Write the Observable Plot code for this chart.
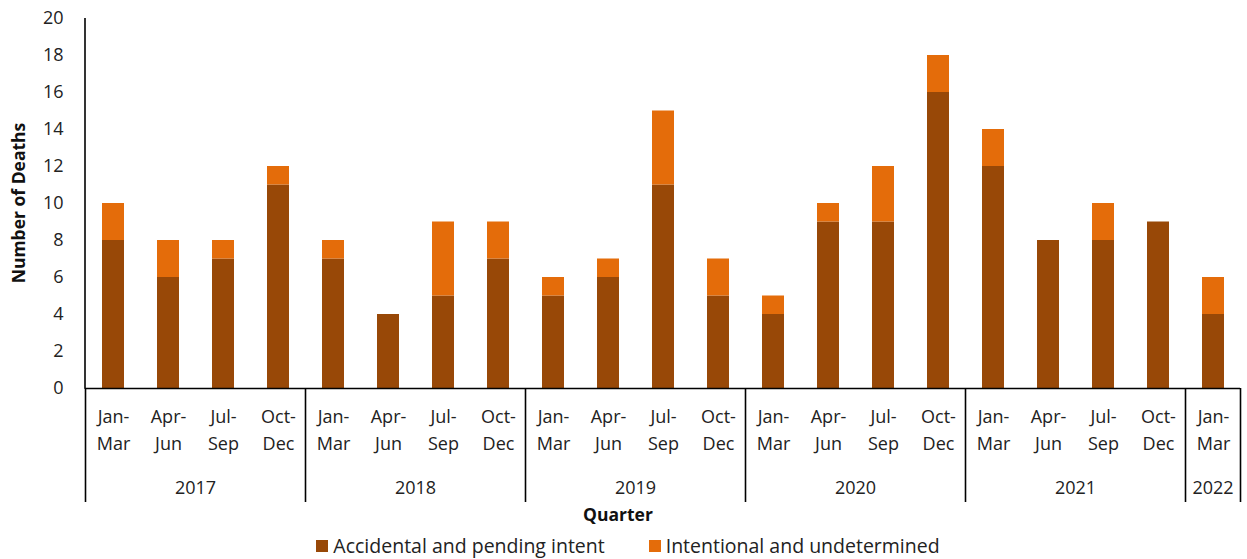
<!DOCTYPE html>
<html><head><meta charset="utf-8">
<script src="https://cdn.jsdelivr.net/npm/d3@7"></script>
<script src="https://cdn.jsdelivr.net/npm/@observablehq/plot@0.6"></script>
<style>
html,body{margin:0;padding:0;background:#fff;}
body{font-family:"Open Sans","Liberation Sans",sans-serif;color:#222;width:1247px;}
#legend{box-sizing:border-box;width:1247px;display:flex;justify-content:center;align-items:center;gap:44px;height:31px;font-size:19.5px;padding-left:9px;padding-top:4px;}
#legend .item{display:flex;align-items:center;gap:5px;}
#legend .sw{width:12px;height:12px;display:inline-block;}
</style></head><body>
<div id="chart"></div>
<div id="legend"></div>
<script>
const quarterLabels = ["Jan-Mar","Apr-Jun","Jul-Sep","Oct-Dec","Jan-Mar","Apr-Jun","Jul-Sep","Oct-Dec","Jan-Mar","Apr-Jun","Jul-Sep","Oct-Dec","Jan-Mar","Apr-Jun","Jul-Sep","Oct-Dec","Jan-Mar","Apr-Jun","Jul-Sep","Oct-Dec","Jan-Mar"];
const years = [2017,2017,2017,2017,2018,2018,2018,2018,2019,2019,2019,2019,2020,2020,2020,2020,2021,2021,2021,2021,2022];
const accidental  = [8,6,7,11, 7,4,5,7, 5,6,11,5, 4,9,9,16, 12,8,8,9, 4];
const intentional = [2,2,1,1, 1,0,4,2, 1,1,4,2, 1,1,3,2, 2,0,2,0, 2];
const seriesNames = ["Accidental and pending intent","Intentional and undetermined"];
const seriesColors = ["#984807","#E46C0A"];
const yTicks = [0,2,4,6,8,10,12,14,16,18,20];
const yTitle = "Number of Deaths";
const xTitle = "Quarter";

const keys = years.map((y,i)=>`${y} ${quarterLabels[i]}`);
const rows = [];
keys.forEach((k,i)=>{
  rows.push({key:k, series:seriesNames[0], value:accidental[i]});
  rows.push({key:k, series:seriesNames[1], value:intentional[i]});
});

const W = 1247, H = 528, MT = 18, MB = H - 388, ML = 85, MR = 7;
const FONT = "'Open Sans', 'Liberation Sans', sans-serif";

const plot = Plot.plot({
  width: W, height: H, marginTop: MT, marginBottom: MB, marginLeft: ML, marginRight: MR,
  style: {fontFamily: FONT, fontSize: "18px", color: "#222", background: "#fff", overflow: "visible"},
  x: {domain: keys, paddingInner: 0.6, paddingOuter: 0.3, axis: null},
  y: {domain: [0, 20]},
  color: {domain: seriesNames, range: seriesColors},
  marks: [
    Plot.barY(rows, {x: "key", y: "value", fill: "series"}),
    Plot.axisY({ticks: yTicks, tickSize: 0, tickPadding: 22, label: null, fontSize: 18}),
    Plot.ruleY([0], {stroke: "#000", strokeWidth: 1.6}),
    Plot.text(keys, {x: d => d, text: (d, i) => quarterLabels[i].split("-")[0] + "-", frameAnchor: "bottom", dy: 34, fontSize: 18, fill: "#222"}),
    Plot.text(keys, {x: d => d, text: (d, i) => quarterLabels[i].split("-")[1], frameAnchor: "bottom", dy: 61, fontSize: 18, fill: "#222"})
  ]
});
document.getElementById("chart").appendChild(plot);

// extra axis elements placed with the library's scales
const xs = plot.scale("x"), ys = plot.scale("y");
const svg = d3.select(plot);
const g = svg.append("g").attr("font-family", FONT);
const gap = (xs.step - xs.bandwidth) / 2;
const y0 = ys.apply(0), yTop = ys.apply(20);
// left axis line
g.append("line").attr("x1", ML).attr("x2", ML).attr("y1", yTop).attr("y2", y0 + 0.8)
  .attr("stroke", "#000").attr("stroke-width", 1.6);
// year groups
const yearList = Array.from(new Set(years));
yearList.forEach(yr => {
  const ks = keys.filter((k, i) => years[i] === yr);
  const left = xs.apply(ks[0]) - gap;
  const right = xs.apply(ks[ks.length - 1]) + xs.bandwidth + gap;
  g.append("line").attr("x1", left).attr("x2", left).attr("y1", y0).attr("y2", y0 + 114)
    .attr("stroke", "#000").attr("stroke-width", 1.6);
  if (yr === yearList[yearList.length - 1]) {
    g.append("line").attr("x1", right).attr("x2", right).attr("y1", y0).attr("y2", y0 + 114)
      .attr("stroke", "#000").attr("stroke-width", 1.6);
  }
  g.append("text").attr("x", (left + right) / 2).attr("y", y0 + 101)
    .attr("text-anchor", "middle").attr("dominant-baseline", "middle")
    .attr("font-size", 18).attr("fill", "#222").text(yr);
});
// axis titles
g.append("text").attr("transform", `translate(20,${(yTop + y0) / 2}) rotate(-90)`)
  .attr("text-anchor", "middle").attr("dominant-baseline", "middle")
  .attr("font-size", 17.5).attr("font-weight", "bold").attr("fill", "#111").text(yTitle);
g.append("text").attr("x", 618).attr("y", y0 + 128)
  .attr("text-anchor", "middle").attr("dominant-baseline", "middle")
  .attr("font-size", 17.5).attr("font-weight", "bold").attr("fill", "#111").text(xTitle);

// legend
const lg = document.getElementById("legend");
seriesNames.forEach((s, i) => {
  const it = document.createElement("div"); it.className = "item";
  const sw = document.createElement("span"); sw.className = "sw"; sw.style.background = seriesColors[i];
  const tx = document.createElement("span"); tx.textContent = s;
  it.appendChild(sw); it.appendChild(tx); lg.appendChild(it);
});
</script>
</body></html>
